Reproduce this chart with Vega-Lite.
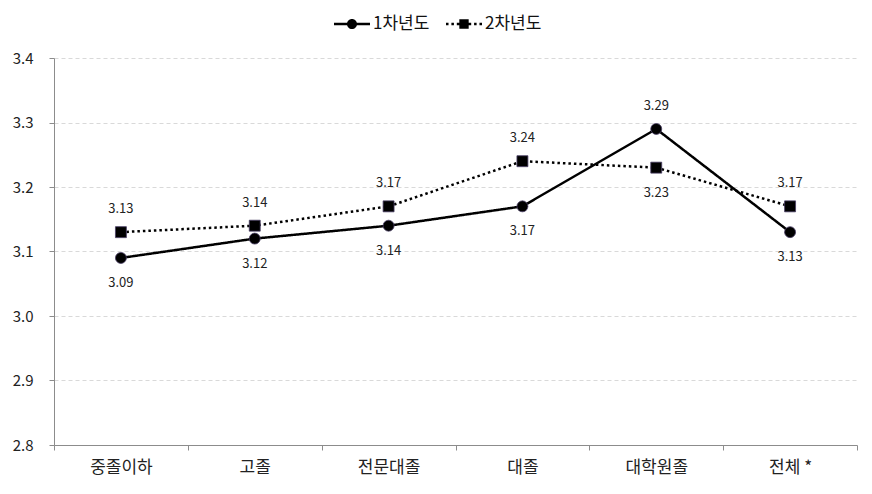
{
  "$schema": "https://vega.github.io/schema/vega-lite/v6.json",
  "width": 803,
  "height": 387,
  "autosize": {"type": "none"},
  "padding": {"left": 54, "top": 58, "right": 15, "bottom": 49},
  "background": "white",
  "config": {
    "font": "Noto Sans CJK KR",
    "view": {"stroke": null},
    "axis": {"labelFont": "Noto Sans CJK KR", "labelColor": "#222222", "domainColor": "#8c8c8c", "tickColor": "#8c8c8c", "title": null}
  },
  "data": {
    "values": [
      {"cat": "중졸이하", "series": "1차년도", "v": 3.09},
      {"cat": "고졸", "series": "1차년도", "v": 3.12},
      {"cat": "전문대졸", "series": "1차년도", "v": 3.14},
      {"cat": "대졸", "series": "1차년도", "v": 3.17},
      {"cat": "대학원졸", "series": "1차년도", "v": 3.29},
      {"cat": "전체 *", "series": "1차년도", "v": 3.13},
      {"cat": "중졸이하", "series": "2차년도", "v": 3.13},
      {"cat": "고졸", "series": "2차년도", "v": 3.14},
      {"cat": "전문대졸", "series": "2차년도", "v": 3.17},
      {"cat": "대졸", "series": "2차년도", "v": 3.24},
      {"cat": "대학원졸", "series": "2차년도", "v": 3.23},
      {"cat": "전체 *", "series": "2차년도", "v": 3.17}
    ]
  },
  "encoding": {
    "x": {
      "field": "cat", "type": "nominal", "sort": null,
      "scale": {"type": "band", "paddingInner": 0, "paddingOuter": 0},
      "axis": {"labelAngle": 0, "tickBand": "extent", "tickSize": 5, "labelPadding": 9, "labelFontSize": 17, "grid": false}
    },
    "y": {
      "field": "v", "type": "quantitative",
      "scale": {"domain": [2.8, 3.4], "nice": false, "zero": false},
      "axis": {"values": [2.8, 2.9, 3.0, 3.1, 3.2, 3.3, 3.4], "format": ".1f", "tickSize": 5, "labelPadding": 16, "labelFontSize": 15, "grid": true, "gridColor": "#d9d9d9", "gridDash": [4, 3], "gridWidth": 1}
    }
  },
  "layer": [
    {
      "mark": {"type": "line", "color": "black", "strokeWidth": 2.5, "strokeCap": "butt"},
      "encoding": {
        "detail": {"field": "series", "type": "nominal"},
        "strokeDash": {"condition": {"test": "datum.series === '2차년도'", "value": [2.5, 3]}, "value": [1, 0]}
      }
    },
    {
      "mark": {"type": "point", "filled": true, "color": "black", "opacity": 1, "stroke": "#4a3f66", "strokeWidth": 0.8, "size": 120},
      "encoding": {
        "shape": {"condition": {"test": "datum.series === '2차년도'", "value": "square"}, "value": "circle"}
      }
    },
    {
      "transform": [{"filter": "false"}],
      "mark": {"type": "point", "filled": true, "color": "black", "opacity": 1, "strokeWidth": 0, "size": 1296},
      "encoding": {
        "shape": {
          "field": "series", "type": "nominal",
          "scale": {"domain": ["1차년도", "2차년도"], "range": [
            "M-1,-0.07H1V0.07H-1ZM0.28,0A0.28,0.28,0,1,1,-0.28,0A0.28,0.28,0,1,1,0.28,0Z",
            "M-1,-0.07H-0.86V0.07H-1ZM-0.7,-0.07H-0.56V0.07H-0.7ZM-0.4,-0.07H-0.26V0.07H-0.4ZM0.26,-0.07H0.4V0.07H0.26ZM0.56,-0.07H0.7V0.07H0.56ZM0.86,-0.07H1V0.07H0.86ZM-0.26,-0.26H0.26V0.26H-0.26Z"
          ]},
          "legend": {
            "title": null, "orient": "none", "direction": "horizontal", "legendX": 280, "legendY": -52,
            "padding": 0, "symbolSize": 1296, "labelOffset": 3, "columnPadding": 16,
            "labelFontSize": 17, "labelColor": "#111111", "labelFont": "Noto Sans CJK KR",
            "symbolFillColor": "black", "symbolStrokeWidth": 0, "symbolOpacity": 1
          }
        }
      }
    },
    {
      "transform": [{"filter": "(datum.series === '1차년도') != (datum.cat === '대학원졸')"}],
      "mark": {"type": "text", "fontSize": 13, "color": "#222222", "baseline": "middle", "dy": 25},
      "encoding": {
        "text": {"field": "v", "type": "quantitative", "format": ".2f"}
      }
    },
    {
      "transform": [{"filter": "(datum.series === '1차년도') == (datum.cat === '대학원졸')"}],
      "mark": {"type": "text", "fontSize": 13, "color": "#222222", "baseline": "middle", "dy": -23},
      "encoding": {
        "text": {"field": "v", "type": "quantitative", "format": ".2f"}
      }
    }
  ]
}
